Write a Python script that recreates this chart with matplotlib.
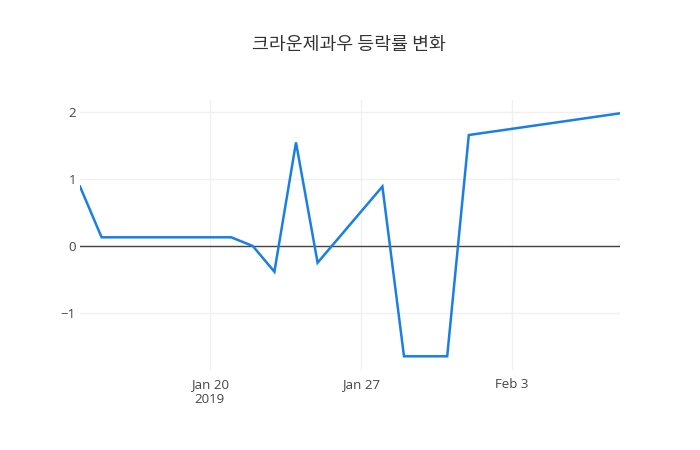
import matplotlib
matplotlib.use("Agg")
import matplotlib.pyplot as plt
import matplotlib.dates as mdates
import numpy as np
import pandas as pd

dates = ["2019-01-14", "2019-01-15", "2019-01-16", "2019-01-17", "2019-01-18",
         "2019-01-21", "2019-01-22", "2019-01-23", "2019-01-24", "2019-01-25",
         "2019-01-28", "2019-01-29", "2019-01-30", "2019-01-31", "2019-02-01",
         "2019-02-08"]
values = [0.89, 0.13, 0.13, 0.13, 0.13,
          0.13, 0.0, -0.385, 1.55, -0.25,
          0.89, -1.65, -1.65, -1.65, 1.66,
          1.985]
title = "크라운제과우 등락률 변화"
xtick_dates = ["2019-01-20", "2019-01-27", "2019-02-03"]
xtick_labels = ["Jan 20\n2019", "Jan 27", "Feb 3"]
ytick_vals = [-1, 0, 1, 2]
ytick_labels = ["−1", "0", "1", "2"]

x = pd.to_datetime(dates)

plt.rcParams['font.family'] = ['Open Sans', 'DejaVu Sans']

fig = plt.figure(figsize=(7, 4.5), dpi=100)
ax = fig.add_axes([80/700, 80/450, 540/700, 270/450])

ax.plot(x, values, color='#1a7fe3', linewidth=1.8, solid_joinstyle='miter', zorder=3)

ax.set_xlim(x[0], x[-1])
ax.set_ylim(-1.855, 2.184)

ax.set_xticks(pd.to_datetime(xtick_dates))
ax.set_xticklabels(xtick_labels)
ax.set_yticks(ytick_vals)
ax.set_yticklabels(ytick_labels)

ax.grid(True, color='#f0f0f0', linewidth=1, zorder=0)
ax.axhline(0, color='#444444', linewidth=1, zorder=2)

for s in ax.spines.values():
    s.set_visible(False)
ax.tick_params(axis='both', length=0, labelsize=9.5, colors='#444444')
ax.tick_params(axis='x', pad=6)
ax.tick_params(axis='y', pad=3)

fig.text(349/700, 1 - 45/450, title, ha='center', va='center', fontsize=13.2,
         color='#333333', family=['Noto Sans CJK KR', 'DejaVu Sans'])

fig.savefig("out.png", dpi=100)
